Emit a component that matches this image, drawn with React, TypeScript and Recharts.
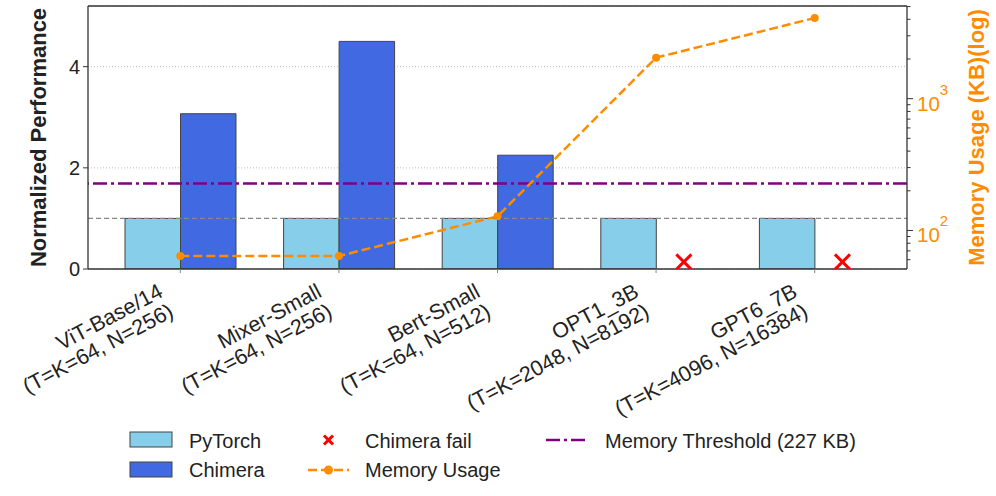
import React from "react";
import {
  ComposedChart,
  Bar,
  Line,
  Scatter,
  XAxis,
  YAxis,
  CartesianGrid,
  ReferenceLine,
} from "recharts";

const models = ["ViT-Base/14", "Mixer-Small", "Bert-Small", "OPT1_3B", "GPT6_7B"];
const shapes = [
  "(T=K=64, N=256)",
  "(T=K=64, N=256)",
  "(T=K=64, N=512)",
  "(T=K=2048, N=8192)",
  "(T=K=4096, N=16384)",
];
const pytorchPerf = [1, 1, 1, 1, 1];
const chimeraPerf = [3.07, 4.5, 2.25, null, null]; // null = chimera failed
const memoryKB = [64, 64, 128, 2048, 4096];
const failIndex = [3, 4];
const failPerf = [0.14, 0.14];
const memThresholdKB = 227;
const perfTicks = [0, 2, 4];
const memTicks = [
  60, 70, 80, 90, 100, 200, 300, 400, 500, 600, 700, 800, 900, 1000, 2000, 3000, 4000, 5000,
];

const PERF_MAX = 5.2;
const BAR_HALF = 0.175; // chimera bar center offset, in category units

const FONT = "'Liberation Sans', Arial, sans-serif";
const SKY = "#87CEEB";
const ROYAL = "#4169E1";
const ORANGE = "#FF8C00";
const PURPLE = "#800080";
const EDGE = "#444";

const rows = models.map((name, i) => ({
  name,
  pytorch: pytorchPerf[i],
  chimera: chimeraPerf[i],
  mem: memoryKB[i],
}));
const failData = failIndex.map((idx, i) => ({ x: idx + BAR_HALF, y: failPerf[i] }));

const ModelTick = (props: any) => {
  const { x, y, payload } = props;
  const i = models.indexOf(payload.value);
  return (
    <text
      transform={`translate(${x - 16},${y + 23}) rotate(-28)`}
      textAnchor="end"
      fontSize={21.5}
      fill="#222"
      fontFamily={FONT}
    >
      <tspan x={0} dy={0}>{models[i]}</tspan>
      <tspan x={0} dy={22.5}>{shapes[i]}</tspan>
    </text>
  );
};

const MemTick = (props: any) => {
  const { x, y, payload } = props;
  const v = payload.value;
  const exp = Math.log10(v);
  const major = Math.abs(exp - Math.round(exp)) < 1e-6;
  return (
    <g>
      <line x1={x} x2={x + (major ? 6 : 3.5)} y1={y} y2={y} stroke="#333" strokeWidth={1} />
      {major && (
        <text x={x + 10} y={y + 12} fill={ORANGE} fontSize={20.5} fontFamily={FONT}>
          10
          <tspan fontSize={15} dy={-16}>{Math.round(exp)}</tspan>
        </text>
      )}
    </g>
  );
};

const FailMark = (props: any) => {
  const { cx, cy } = props;
  const s = 7.5;
  return (
    <g stroke="#FF0000" strokeWidth={3}>
      <line x1={cx - s} y1={cy - s} x2={cx + s} y2={cy + s} />
      <line x1={cx - s} y1={cy + s} x2={cx + s} y2={cy - s} />
    </g>
  );
};

const LeftTitle = (props: any) => {
  const { viewBox } = props;
  const cy = viewBox.y + viewBox.height / 2;
  return (
    <text
      transform={`translate(46,${cy}) rotate(-90)`}
      textAnchor="middle"
      fontSize={22}
      fontWeight="bold"
      fill="#222"
      fontFamily={FONT}
    >
      Normalized Performance
    </text>
  );
};

const RightTitle = (props: any) => {
  const { viewBox } = props;
  const cy = viewBox.y + viewBox.height / 2;
  return (
    <text
      transform={`translate(984,${cy}) rotate(-90)`}
      textAnchor="middle"
      fontSize={22}
      fontWeight="bold"
      fill={ORANGE}
      fontFamily={FONT}
    >
      Memory Usage (KB)(log)
    </text>
  );
};

const LegendText = ({ x, y, children }: any) => (
  <text x={x} y={y} fontSize={20} fill="#222" fontFamily={FONT}>
    {children}
  </text>
);

const ChartLegend = () => (
  <svg width={996} height={81} style={{ position: "absolute", left: 0, top: 415 }}>
    <rect x={130} y={17} width={42} height={15} fill={SKY} stroke={EDGE} />
    <LegendText x={189} y={32.5}>PyTorch</LegendText>
    <rect x={130} y={47} width={42} height={15} fill={ROYAL} stroke={EDGE} />
    <LegendText x={189} y={62}>Chimera</LegendText>

    <g stroke="#FF0000" strokeWidth={3}>
      <line x1={324} y1={20.5} x2={333} y2={29.5} />
      <line x1={324} y1={29.5} x2={333} y2={20.5} />
    </g>
    <LegendText x={365} y={32.5}>Chimera fail</LegendText>
    <line x1={308} y1={55} x2={349} y2={55} stroke={ORANGE} strokeWidth={2.5} strokeDasharray="9 4" />
    <circle cx={328.5} cy={55} r={4.5} fill={ORANGE} />
    <LegendText x={365} y={62}>Memory Usage</LegendText>

    <line x1={546} y1={25} x2={587} y2={25} stroke={PURPLE} strokeWidth={2.5} strokeDasharray="14 4 3 4" />
    <LegendText x={605} y={32.5}>Memory Threshold (227 KB)</LegendText>
  </svg>
);

export default function App() {
  return (
    <div style={{ position: "absolute", left: 0, top: 0, width: 996, height: 496, background: "#fff" }}>
      <ComposedChart
        width={996}
        height={496}
        data={rows}
        margin={{ top: 6, right: 0, bottom: 197, left: 0 }}
        barSize={55.5}
        barGap={0}
      >
        <CartesianGrid
          yAxisId="left"
          vertical={false}
          stroke="#bbb"
          strokeDasharray="1 2"
        />
        <XAxis
          dataKey="name"
          interval={0}
          height={30}
          padding={{ left: 13, right: 13 }}
          tick={<ModelTick />}
          tickSize={4}
          tickMargin={0}
          axisLine={{ stroke: "#333", strokeWidth: 1.3 }}
          tickLine={{ stroke: "#888" }}
        />
        <XAxis
          xAxisId="num"
          type="number"
          dataKey="x"
          domain={[-0.5, 4.5]}
          allowDataOverflow
          padding={{ left: 13, right: 13 }}
          hide
        />
        <YAxis
          yAxisId="left"
          width={88}
          domain={[0, PERF_MAX]}
          ticks={perfTicks}
          allowDataOverflow
          tick={{ fontSize: 20, fill: "#222", fontFamily: FONT }}
          tickSize={5}
          tickMargin={3}
          axisLine={{ stroke: "#333", strokeWidth: 1.3 }}
          tickLine={{ stroke: "#333" }}
          label={<LeftTitle />}
        />
        <YAxis
          yAxisId="right"
          orientation="right"
          width={89}
          scale="log"
          domain={[51, 5050]}
          allowDataOverflow
          ticks={memTicks}
          interval={0}
          tick={<MemTick />}
          tickLine={false}
          tickSize={0}
          tickMargin={0}
          axisLine={{ stroke: "#333", strokeWidth: 1.3 }}
          label={<RightTitle />}
        />
        <ReferenceLine yAxisId="left" y={PERF_MAX} stroke="#333" strokeWidth={1.3} />
        <Bar yAxisId="left" dataKey="pytorch" fill={SKY} stroke={EDGE} strokeWidth={1} isAnimationActive={false} />
        <Bar yAxisId="left" dataKey="chimera" fill={ROYAL} stroke={EDGE} strokeWidth={1} isAnimationActive={false} />
        <ReferenceLine yAxisId="left" y={1} stroke="#888" strokeWidth={1.3} strokeDasharray="5 3" />
        <ReferenceLine
          yAxisId="right"
          y={memThresholdKB}
          stroke={PURPLE}
          strokeWidth={2.5}
          strokeDasharray="14 4 3 4"
        />
        <Line
          yAxisId="right"
          dataKey="mem"
          stroke={ORANGE}
          strokeWidth={2.5}
          strokeDasharray="9 4"
          dot={{ r: 4, fill: ORANGE, stroke: ORANGE, strokeWidth: 0 }}
          isAnimationActive={false}
        />
        <Scatter
          xAxisId="num"
          yAxisId="left"
          data={failData}
          dataKey="y"
          shape={<FailMark />}
          isAnimationActive={false}
        />
      </ComposedChart>
      <ChartLegend />
    </div>
  );
}
